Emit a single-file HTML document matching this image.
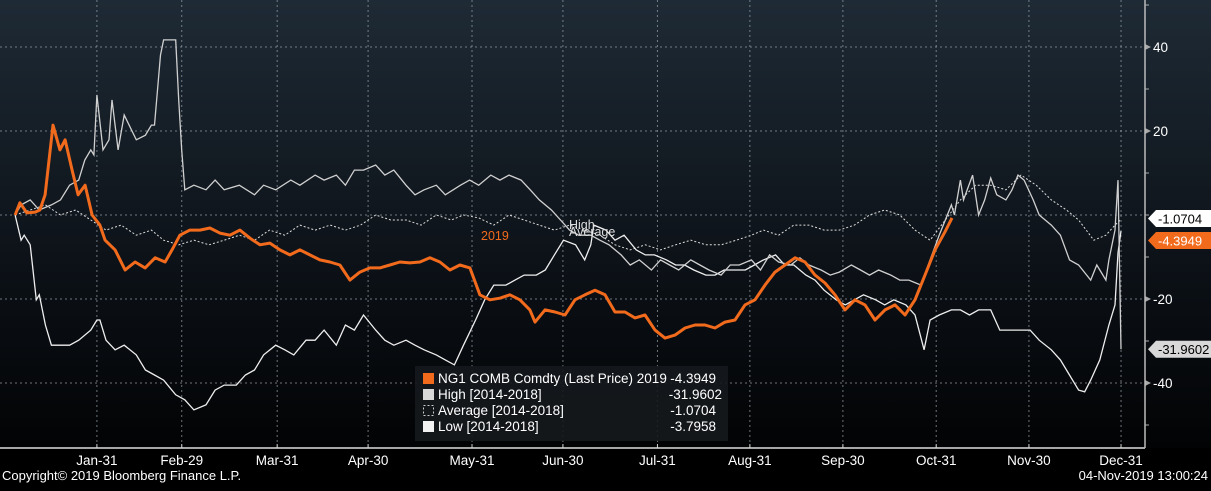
<!DOCTYPE html>
<html><head><meta charset="utf-8">
<style>
html,body{margin:0;padding:0;background:#000;}
body{width:1211px;height:486px;overflow:hidden;font-family:"Liberation Sans",sans-serif;}
svg text{font-family:"Liberation Sans",sans-serif;}
</style></head>
<body>
<svg id="chart" width="1211" height="486" viewBox="0 0 1211 486" xmlns="http://www.w3.org/2000/svg">
<defs>
<linearGradient id="bg" x1="0" y1="0" x2="0" y2="1">
<stop offset="0" stop-color="#1e2a35"/><stop offset="0.6" stop-color="#0c1117"/><stop offset="1" stop-color="#020304"/>
</linearGradient>
</defs>
<rect x="0" y="0" width="1211" height="448" fill="url(#bg)"/>
<rect x="0" y="448" width="1211" height="38" fill="#000"/>
<g id="grid"></g>
<g id="series"></g>
<g id="axes"></g>
<text x="481" y="240" fill="#f26b1d" font-size="12.5">2019</text>
<text x="569" y="229" fill="#ddd" font-size="12.5">High</text>
<text x="569" y="236" fill="#ddd" font-size="12.5">Average</text>
<g>
<rect x="415" y="366" width="313" height="75" fill="#15191d" opacity="0.9"/>
<rect x="423" y="373" width="11" height="11" fill="#f26b1d"/>
<text x="438" y="383" fill="#fff" font-size="13.5">NG1 COMB Comdty (Last Price) 2019</text>
<text x="716" y="383" fill="#fff" font-size="13.5" text-anchor="end">-4.3949</text>
<rect x="423" y="389" width="11" height="11" fill="#d8d8d8"/>
<text x="438" y="399" fill="#fff" font-size="13.5">High [2014-2018]</text>
<text x="722" y="399" fill="#fff" font-size="13.5" text-anchor="end">-31.9602</text>
<rect x="423.5" y="405.5" width="10" height="10" fill="none" stroke="#ccc" stroke-dasharray="2,2"/>
<text x="438" y="415" fill="#fff" font-size="13.5">Average [2014-2018]</text>
<text x="716" y="415" fill="#fff" font-size="13.5" text-anchor="end">-1.0704</text>
<rect x="423" y="421" width="11" height="11" fill="#f2f2f2"/>
<text x="438" y="431" fill="#fff" font-size="13.5">Low [2014-2018]</text>
<text x="716" y="431" fill="#fff" font-size="13.5" text-anchor="end">-3.7958</text>
</g>
<g id="tags"></g>
<text x="2" y="480" fill="#fff" font-size="13">Copyright© 2019 Bloomberg Finance L.P.</text>
<text x="1208" y="480" fill="#fff" font-size="13" text-anchor="end">04-Nov-2019 13:00:24</text>
</svg>
<script>
const tickDays=[30,58,89.5,119.5,153.8,183.8,215,245.5,276.2,307,337.6,368];
const tickLabels=["Jan-31","Feb-29","Mar-31","Apr-30","May-31","Jun-30","Jul-31","Aug-31","Sep-30","Oct-31","Nov-30","Dec-31"];
const yTicks=[40,20,-20,-40];
const yMinor=[50,30,10,0,-10,-30,-50];
const days2019=[3,4.6,6.9,9.6,11.2,12.9,15.5,17.8,19.5,21.8,23.8,26.1,28.4,31,32.7,36,39.3,42.6,45.9,49.2,52.5,54.8,57.4,60.7,64,67.3,70.6,73.9,77.2,80.5,83.8,87.1,90.4,93.7,97,100.3,103.6,106.9,110.2,113.5,116.8,120.1,123.4,126.7,130,133.3,136.6,139.9,143.2,146.5,149.8,153.1,156.4,159.7,163,166.3,169.6,172.9,174.6,177.9,181.2,184.5,187.8,191.1,194.4,197.7,201,204.3,207.6,210.9,214.2,217.5,220.8,224.1,227.4,230.7,234,237.3,240.6,243.9,247.2,250.5,253.8,257.1,260.4,263.7,267,270.3,273.6,276.9,280.2,283.5,286.8,290.1,293.4,296.7,300,303.3,306.6,309.9,312.2];
const vals2019=[0,2.9,0.5,0.7,1.2,4.8,21.4,15.5,17.9,10.7,4.8,7.1,0,-2.4,-6,-8.3,-13.1,-11.2,-12.6,-10.2,-11.2,-8.3,-4.8,-3.6,-3.6,-3.1,-4.3,-4.8,-3.6,-5.5,-7.1,-6.7,-8.3,-9.5,-8.3,-9.5,-10.7,-11.2,-11.9,-15.5,-13.6,-12.6,-12.6,-11.9,-11.2,-11.4,-11.2,-10.2,-11.2,-13.1,-11.9,-12.6,-19,-20.2,-19.8,-19,-20.2,-22.6,-25.5,-22.6,-23.1,-23.8,-20.2,-19,-17.9,-19,-23.1,-23.1,-24.5,-23.8,-27.4,-29.3,-28.6,-26.9,-26.2,-26.2,-26.9,-25.5,-25,-21.4,-20.2,-16.7,-13.6,-11.9,-10.2,-11.2,-14.3,-16.2,-19,-22.6,-20.2,-21.4,-25,-22.6,-21.4,-23.8,-20.2,-14.3,-8.3,-4,-0.7];
const daysHigh=[3,5,8,11,15,18,21,24,26,28,29,30,32,34,35,37,39,43,46,48,49,51,52,56,57,58,59,62,66,69,72,77,82,85,89,94,97,102,105,109,112,115,118,122,125,128,132,135,138,142,145,150,153,156,160,163,166,170,173,176,180,183,186,189,193,196,199,203,206,209,213,216,219,222,226,229,232,236,239,242,246,249,252,255,259,262,265,269,272,275,279,282,285,288,292,295,298,302,305,308,312,313,315,316,319,321,323,325,327,330,332,334,336,339,341,345,348,351,354,358,360,363,364,366,367,368];
const valsHigh=[0,2.4,3.6,1.2,2.4,3.6,7.1,8.3,13.1,15.5,14.3,28.6,15.5,17.9,27.4,15.5,23.8,17.9,19,21.4,21.4,38.1,41.7,41.7,27.4,15.5,6,7.1,6,8.3,6,7.1,4.8,7.1,6,8.3,7.1,9.5,8.3,9.5,7.1,10.7,10.7,11.9,9.5,10.7,7.1,4.8,6,7.1,4.8,7.1,8.3,7.1,9.5,8.3,9.5,8.3,6,3.6,1.2,-1.2,-3.6,-4.8,-4.8,-6,-7.1,-9.5,-11.9,-10.7,-13.1,-10.7,-11.9,-13.1,-10.7,-11.9,-13.1,-14.3,-11.9,-11.9,-10.7,-13.1,-9.5,-11.2,-11.9,-10.2,-11.9,-13.1,-14.3,-13.6,-11.9,-13.1,-14.3,-13.1,-14.3,-15.5,-15.5,-16.7,-10.7,-4.8,2.4,0,8.3,3.6,9.5,0,3.6,8.8,4.8,3.6,6,9.5,8.3,3.6,0,-2.4,-4.8,-10.7,-11.9,-15.5,-11.9,-15.5,-10.7,-3.6,8.3,-31.96];
const daysLow=[3,5,6,8,10,11,13,15,18,21,24,28,30,31,33,36,39,43,46,49,52,56,59,62,66,69,72,76,79,82,85,89,92,95,99,102,105,109,112,115,118,122,125,128,132,135,138,142,145,148,151,155,158,161,165,168,171,175,178,181,184,188,191,193,194,198,201,204,208,211,214,218,221,224,227,231,234,237,241,244,247,250,254,257,260,264,267,270,274,277,280,283,287,290,293,297,300,303,305,308,312,315,318,321,325,328,331,335,338,341,345,348,351,354,356,358,361,364,366,367,368];
const valsLow=[0,-6,-4.8,-7.1,-20.2,-19,-26.2,-31,-31,-31,-29.8,-27.4,-25,-25,-29.8,-32.1,-31,-33.3,-36.9,-38.1,-39.3,-42.8,-44,-46.4,-45.2,-41.7,-40.5,-40.5,-38.1,-36.9,-33.3,-31,-32.1,-33.3,-29.8,-29.8,-27.4,-31,-26.2,-27.4,-23.8,-27.4,-29.8,-31,-29.8,-31,-32.1,-33.3,-34.5,-35.7,-31,-25,-20.2,-16.7,-16.7,-15.5,-14.3,-14.3,-13.1,-9.5,-6,-7.1,-10.7,-7.1,-2.4,-3.6,-6,-4.8,-8.3,-9.5,-9.5,-10.7,-11.9,-11.9,-13.1,-14.3,-14.3,-13.1,-13.1,-13.1,-11.9,-10.7,-9.5,-11.9,-11.9,-14.3,-15.5,-17.9,-20.2,-21.4,-20.2,-19,-20.2,-21.4,-20.2,-21.4,-23.8,-32.1,-25,-23.8,-22.6,-22.6,-23.8,-22.6,-22.6,-27.4,-27.4,-27.4,-27.4,-29.8,-32.1,-34.5,-38.1,-41.7,-42.1,-39.3,-34.5,-26.2,-21.4,-9,-3.8];
const daysAvg=[3,8,13,18,23,28,33,38,43,48,52,57,62,67,72,77,82,87,92,97,102,107,112,117,122,127,132,137,142,147,151,156,161,166,171,176,181,186,191,196,201,206,211,216,221,226,231,236,241,246,250,255,260,265,270,275,280,285,290,295,300,305,310,315,320,325,330,335,340,345,350,354,359,363,366,368];
const valsAvg=[0,1.2,2.4,0,1.2,-1.2,-3.6,-2.4,-4.8,-3.6,-6,-7.1,-6,-7.1,-6,-4.8,-6,-3.6,-4.8,-2.4,-3.6,-2.4,-3.6,-2.4,0,-1.2,-1.2,-2.4,0,-1.2,0,-0.7,-2.4,0,-1.2,-2.4,-3.6,-2.4,-3.6,-4.8,-7.1,-8.3,-7.1,-8.3,-7.1,-6,-7.1,-7.1,-6,-4.8,-3.6,-4.8,-2.4,-2.4,-3.6,-3.6,-2.4,0,1.2,0,-3.6,-6,-1.2,3.6,7.1,7.1,6,9.5,7.1,3.6,1.2,-1.2,-6,-4.8,-2.4,-1.07];
const tagVals=[-1.0704,-4.3949,-31.9602];
const tagText=["-1.0704","-4.3949","-31.9602"];

const NS="http://www.w3.org/2000/svg";
const xs=d=>6+d*3.03;
const ys=v=>215-v*4.2;
const AX=1145, AY=448;
function mk(tag,attrs,parent){const e=document.createElementNS(NS,tag);for(const k in attrs)e.setAttribute(k,attrs[k]);parent.appendChild(e);return e;}
const grid=document.getElementById('grid'),axes=document.getElementById('axes'),ser=document.getElementById('series'),tags=document.getElementById('tags');
tickDays.forEach((d,i)=>{
  const l=mk('line',{x1:xs(d),x2:xs(d),y1:0,y2:AY,stroke:'#9aa3ab','stroke-width':1,'stroke-dasharray':'2,3',opacity:0.7},grid);
  
  
  const t=mk('text',{x:xs(d),y:465,fill:'#fff','font-size':13.5,'text-anchor':'middle'},axes);
  
  
  t.textContent=tickLabels[i];
  const tk=mk('line',{x1:xs(d),x2:xs(d),y1:AY-4,y2:AY,stroke:'#ccc'},axes);
  
  
});
[...yTicks,0].forEach(v=>{
  const l=mk('line',{x1:0,x2:AX,y1:ys(v),y2:ys(v),stroke:'#9aa3ab','stroke-width':1,'stroke-dasharray':'2,3',opacity:0.7},grid);
  
  
});
yTicks.forEach(v=>{
  const p=mk('path',{d:`M${AX} ${ys(v)-3}L${AX+6} ${ys(v)}L${AX} ${ys(v)+3}Z`,fill:'#aaa'},axes);
  
  
  const t=mk('text',{x:AX+8,y:ys(v)+5,fill:'#fff','font-size':13.5},axes);
  
  
  t.textContent=String(v);
});
yMinor.forEach(v=>{
  const l=mk('line',{x1:AX,x2:AX+4,y1:ys(v),y2:ys(v),stroke:'#aaa'},axes);
  
  
});
const xa=mk('line',{x1:0,x2:AX,y1:AY,y2:AY,stroke:'#ddd','stroke-width':1.5},axes);


const ya=mk('line',{x1:AX,x2:AX,y1:0,y2:AY,stroke:'#bbb','stroke-width':1.5},axes);


function pts(ds,vs){return ds.map((d,i)=>xs(d).toFixed(1)+','+ys(vs[i]).toFixed(1)).join(' ');}
const pa=mk('polyline',{points:pts(daysAvg,valsAvg),fill:'none',stroke:'#ddd','stroke-width':1,'stroke-dasharray':'2,2'},ser);


const pl=mk('polyline',{points:pts(daysLow,valsLow),fill:'none',stroke:'#eee','stroke-width':1.3},ser);


const ph=mk('polyline',{points:pts(daysHigh,valsHigh),fill:'none',stroke:'#d0d0d0','stroke-width':1.3},ser);


const p19=mk('polyline',{points:pts(days2019,vals2019),fill:'none',stroke:'#f26b1d','stroke-width':3,'stroke-linejoin':'round'},ser);


const tagFill=['#ffffff','#f26b1d','#d8d8d8'];
const tagOff=[-1,7,0];
tagVals.forEach((v,i)=>{
  const y=ys(v)+tagOff[i];
  const g=mk('g',{},tags);
  
  
  mk('path',{d:`M${AX+3} ${y}L${AX+11} ${y-8.5}H1211V${y+8.5}H${AX+11}Z`,fill:tagFill[i]},g);
  const t=mk('text',{x:AX+13,y:y+5,fill:i==1?'#fff':'#000','font-size':13},g);
  t.textContent=tagText[i];
});
</script>
</body></html>
